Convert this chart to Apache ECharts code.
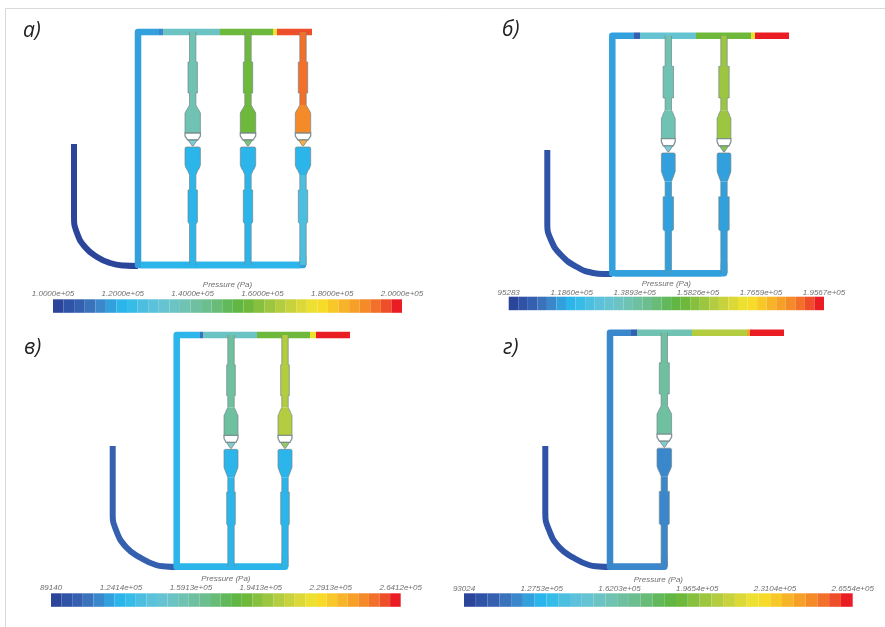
<!DOCTYPE html>
<html>
<head>
<meta charset="utf-8">
<style>html,body{margin:0;padding:0;background:#fff}#c{width:885px;height:627px;filter:blur(0.5px)}</style>
<script src="https://cdn.jsdelivr.net/npm/echarts@6/dist/echarts.min.js"></script>
</head>
<body>
<div id="c"></div>
<script>
// Pressure colour scale: 33 discrete bands, low to high
const bands = ['#2b459b','#2f53a6','#3560b0','#3a72bb','#3a88cb','#32a0dd','#2bb5ea','#37bce8','#4cbfe0','#5cc2dc','#66c3d2','#6cc3c4','#70c2b2','#6fc0a0','#6cbe8e','#68bc78','#62b95c','#62b744','#6eb93c','#86c03e','#9dc640','#b3cc40','#c8d23c','#dcd838','#ece030','#f6dc28','#f8c828','#f7b428','#f6a028','#f48a28','#f2702a','#ee4e2a','#ea1c24'];

const panelNames = ['а)','б)','в)','г)'];
const ticksA = ['1.0000e+05','1.2000e+05','1.4000e+05','1.6000e+05','1.8000e+05','2.0000e+05'];
const ticksB = ['95283','1.1860e+05','1.3893e+05','1.5826e+05','1.7659e+05','1.9567e+05'];
const ticksC = ['89140','1.2414e+05','1.5913e+05','1.9413e+05','2.2913e+05','2.6412e+05'];
const ticksD = ['93024','1.2753e+05','1.6203e+05','1.9654e+05','2.3104e+05','2.6554e+05'];
const tickLabels = [ticksA,ticksB,ticksC,ticksD];

// Pipe network geometry, in picture units
const leftX = [138,612.3,176.7,610];
const headerY = [32,35.7,335,332.7];
const bottomY = [265,273.3,566.7,566.7];
const branchXA = [192.7,248,303];
const branchXB = [668.3,724];
const branchXC = [231,285];
const branchXD = [664.3];
const branchXs = [branchXA,branchXB,branchXC,branchXD];
// [x from, x to, pressure band] along each header
const headerA = [[163,220,11],[220,273,18],[273,277,24],[277,312,31]];
const headerB = [[640,696,10],[696,751,18],[751,755,24],[755,789,32]];
const headerC = [[203,257,11],[257,310,18],[310,316,24],[316,350,32]];
const headerD = [[637,692,12],[692,747,21],[747,750,28],[750,784,32]];
const headerSegs = [headerA,headerB,headerC,headerD];
const mainBand = [5,5,6,4];
const bottomBand = [6,5,6,4];
const mainEndX = [159,634,200,631];
const darkEndBand = [4,2,3,2];
// [upper pipe, upper vessel, lower vessel, lower pipe] bands of each branch
const branchBandsA = [[12,12,6,6],[18,18,6,6],[30,29,6,8]];
const branchBandsB = [[12,12,5,5],[20,20,5,5]];
const branchBandsC = [[13,13,6,6],[21,21,6,6]];
const branchBandsD = [[13,13,4,4]];
const branchBands = [branchBandsA,branchBandsB,branchBandsC,branchBandsD];
// inlet curve
const inletA = [[74,144],[74,217],[77,233],[85,247],[97,257],[110,263],[124,265.5],[138,266]];
const inletB = [[547.3,150],[547.3,223],[551,240],[561,255],[577,267],[593,273],[603,274],[612,274]];
const inletC = [[112.7,446],[112.7,513],[116,530],[126,547],[141,558],[156,565],[166,566.5],[177,567]];
const inletD = [[545.3,446],[545.3,513],[549,530],[559,547],[574,558],[589,565],[599,566.5],[610,567]];
const inlets = [inletA,inletB,inletC,inletD];
const inletBand = [0,1,2,1];

// Branch profile: distance along branch and half width key
const upperPipeRun = [[0,'p'],[30,'p'],[30,'w'],[61,'w'],[61,'p'],[73,'p']];
const upperVesselRun = [[73,'p'],[76,'n'],[79,'u'],[81,'v'],[101,'v']];
const lowerVesselRun = [[115,'u'],[116,'v'],[133,'v'],[136,'u'],[139,'n'],[143,'p']];
const lowerPipeRun = [[143,'p'],[158,'p'],[158,'w'],[190,'w'],[192,'p'],[233,'p']];
const vesselHalf = [7.7,6.9,7,7.3];
const wideHalf = [4.7,5.2,4.3,5];

// Colour bars
const barLeft = [53,508.7,51,464];
const barRight = [402,824,400.7,852.7];
const barTop = [299.3,296.7,593.3,593.3];
const barHeight = 13.5;

const profileLength = 233;
const edge = '#75878a';

function mainPolyline(i){
  const n = branchXs[i].length, endX = branchXs[i][n-1];
  return [[mainEndX[i],headerY[i]],[leftX[i],headerY[i]],[leftX[i],bottomY[i]],[endX,bottomY[i]],[endX,bottomY[i]-10]];
}
function lineSeries(pts,band,width,smooth){
  return {type:'line',xAxisIndex:0,yAxisIndex:0,data:pts,showSymbol:false,symbol:'none',silent:true,animation:false,smooth:smooth||false,
    lineStyle:{color:bands[band],width:width,cap:'butt',join:'round'},z:2};
}

const grids=[{left:0,top:0,width:885,height:627}];
const xAxes=[{type:'value',min:0,max:885,show:false,gridIndex:0}];
const yAxes=[{type:'value',min:0,max:627,inverse:true,show:false,gridIndex:0}];
const series=[];

// frame
series.push({type:'line',xAxisIndex:0,yAxisIndex:0,data:[[885,8.5],[5.5,8.5],[5.5,627]],symbol:'none',silent:true,animation:false,
  lineStyle:{color:'#d9d9d9',width:1},z:1});

panelNames.forEach(function(name,i){
  series.push(lineSeries(inlets[i],inletBand[i],6,0.5));
  series.push(lineSeries(mainPolyline(i),mainBand[i],6.5));
  const n=branchXs[i].length;
  series.push(lineSeries([[leftX[i]+3,bottomY[i]],[branchXs[i][n-1]-3,bottomY[i]]],bottomBand[i],6.5));
  series.push(lineSeries([[mainEndX[i],headerY[i]],[headerSegs[i][0][0],headerY[i]]],darkEndBand[i],6.5));
  headerSegs[i].forEach(function(s){
    series.push(lineSeries([[s[0],headerY[i]],[s[1],headerY[i]]],s[2],6.5));
  });
});

// branches
const branchRows=[];
panelNames.forEach(function(n,i){ branchXs[i].forEach(function(x,j){ branchRows.push([x,i,j]); }); });
series.push({type:'custom',xAxisIndex:0,yAxisIndex:0,coordinateSystem:'cartesian2d',silent:true,animation:false,z:3,
  data:branchRows,
  encode:{x:0},
  renderItem:function(params,api){
    const x=api.value(0), i=api.value(1), j=api.value(2);
    const k=(bottomY[i]-headerY[i])/profileLength;
    const half={p:3.2,n:4.8,w:wideHalf[i],v:vesselHalf[i],u:vesselHalf[i]-1};
    const P=function(side,rel,h){return api.coord([x+side*h,headerY[i]+rel*k]);};
    const poly=function(run){
      const r=run.map(function(q){return P(1,q[0],half[q[1]]);});
      const l=run.slice().reverse().map(function(q){return P(-1,q[0],half[q[1]]);});
      return r.concat(l);
    };
    const side=function(run,s){return run.map(function(q){return P(s,q[0],half[q[1]]);});};
    const bb=branchBands[i][j];
    const ch=[];
    [[upperPipeRun,0],[upperVesselRun,1],[lowerVesselRun,2],[lowerPipeRun,3]].forEach(function(r){
      ch.push({type:'polygon',shape:{points:poly(r[0])},style:{fill:bands[bb[r[1]]]}});
    });
    const es={stroke:edge,lineWidth:1,fill:null,opacity:0.7};
    const upper=upperPipeRun.concat(upperVesselRun), lower=lowerVesselRun.concat(lowerPipeRun);
    [1,-1].forEach(function(s){
      ch.push({type:'polyline',shape:{points:side(upper,s)},style:es});
      ch.push({type:'polyline',shape:{points:side(lower,s)},style:es});
    });
    ch.push({type:'polyline',shape:{points:[P(-1,115,half.u),P(1,115,half.u)]},style:es});
    const v=half.v;
    ch.push({type:'polygon',shape:{points:[P(-1,101,v),P(1,101,v),P(1,104,v),P(1,108,5),P(-1,108,5),P(-1,104,v)]},
      style:{fill:'#fff',stroke:edge,lineWidth:1.3,opacity:0.9}});
    ch.push({type:'polygon',shape:{points:[P(-1,108,4.5),P(1,108,4.5),P(1,114,0.4),P(-1,114,0.4)]},
      style:{fill:bands[Math.max(bb[2],bb[0]-2)],stroke:edge,lineWidth:1,opacity:0.85}});
    return {type:'group',children:ch};
  }
});

// colour bars with their scale axes
panelNames.forEach(function(n,i){
  const g=grids.length;
  grids.push({left:barLeft[i],top:barTop[i],width:barRight[i]-barLeft[i],height:barHeight});
  const catIndex=xAxes.length;
  xAxes.push({type:'category',gridIndex:g,show:false,data:bands.map(function(c,b){return b;})});
  xAxes.push({type:'value',gridIndex:g,position:'top',min:0,max:5,interval:1,
    axisLine:{show:false},axisTick:{show:false},splitLine:{show:false},
    axisLabel:{margin:[1.5,0,2,1][i],color:'#6f6f6f',fontSize:8,fontStyle:'italic',fontFamily:'Liberation Sans',hideOverlap:false,
      formatter:function(v){return tickLabels[i][v];}},
    name:'Pressure (Pa)',nameLocation:'middle',nameGap:[11,9,11,8.5][i],
    nameTextStyle:{color:'#6f6f6f',fontSize:8,fontStyle:'italic',fontFamily:'Liberation Sans'}});
  const yi=yAxes.length;
  yAxes.push({type:'value',gridIndex:g,min:0,max:1,show:false});
  series.push({type:'bar',xAxisIndex:catIndex,yAxisIndex:yi,barWidth:'100%',silent:true,animation:false,
    data:bands.map(function(c){return {value:1,itemStyle:{color:c}};})});
});

// panel letters
const letterLeft=[23,502,24,503];
const letterTop=[21,20,338,338];
const chart=echarts.init(document.getElementById('c'),null,{renderer:'canvas'});
chart.setOption({
  animation:false,backgroundColor:'#fff',tooltip:{show:false},
  grid:grids,xAxis:xAxes,yAxis:yAxes,series:series,
  graphic:panelNames.map(function(t,i){
    return {type:'text',left:letterLeft[i],top:letterTop[i],
      style:{text:t,fill:'#222',fontSize:21,fontStyle:'italic',fontFamily:'Open Sans'}};
  })
});
</script>
</body>
</html>
